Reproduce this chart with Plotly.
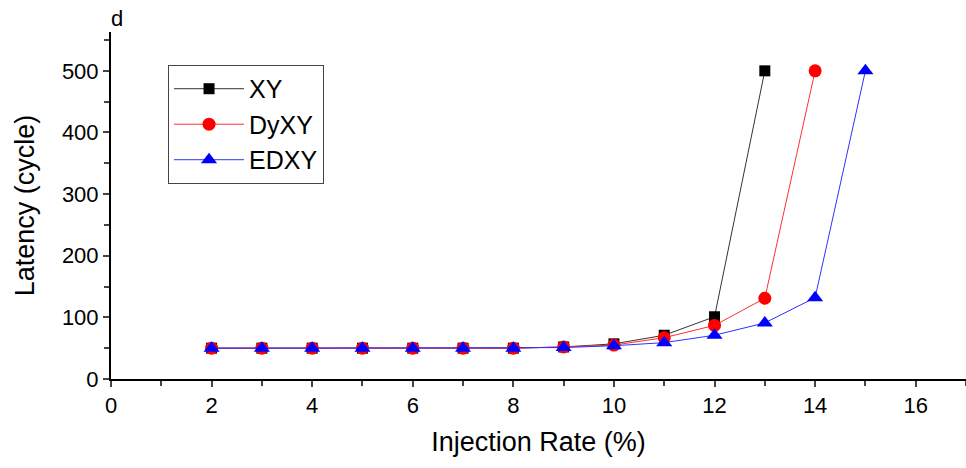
import plotly.graph_objects as go

rates_xy = [2, 3, 4, 5, 6, 7, 8, 9, 10, 11, 12, 13]
lat_xy = [50, 50, 50, 50, 50, 50, 50, 52, 57, 71, 101, 500]

rates_dyxy = [2, 3, 4, 5, 6, 7, 8, 9, 10, 11, 12, 13, 14]
lat_dyxy = [50, 50, 50, 50, 50, 50, 50, 52, 55, 67, 87, 131, 500]

rates_edxy = [2, 3, 4, 5, 6, 7, 8, 9, 10, 11, 12, 13, 14, 15]
lat_edxy = [50, 50, 50, 50, 50, 50, 50, 51, 54, 59, 71, 91, 132, 500]

FONT = "Liberation Sans, Arial, sans-serif"

fig = go.Figure()
fig.add_trace(go.Scatter(x=rates_xy, y=lat_xy, name="XY", mode="lines+markers",
                         legendgroup="a",
                         line=dict(color="#333333", width=1),
                         marker=dict(symbol="square", size=11, color="black")))
fig.add_trace(go.Scatter(x=rates_dyxy, y=lat_dyxy, name="DyXY", mode="lines+markers",
                         legendgroup="b",
                         line=dict(color="#ff3030", width=1),
                         marker=dict(symbol="circle", size=13, color="#ff0000")))
fig.add_trace(go.Scatter(x=rates_edxy, y=lat_edxy, name="EDXY", mode="lines+markers",
                         legendgroup="c",
                         line=dict(color="#3030ff", width=1),
                         marker=dict(symbol="triangle-up", size=14, color="#0000ff")))

fig.update_layout(
    width=966, height=468,
    margin=dict(l=111, r=0, t=32, b=89),
    paper_bgcolor="white", plot_bgcolor="white",
    font=dict(family=FONT, color="black", size=22),
    showlegend=True,
    legend=dict(x=0.0667, y=0.905, xanchor="left", yanchor="top",
                bordercolor="#444", borderwidth=1, bgcolor="white",
                font=dict(size=25, family=FONT), tracegroupgap=0,
                itemwidth=70, itemsizing="trace"),
    xaxis=dict(range=[0, 17], tickmode="array", tickvals=[0, 2, 4, 6, 8, 10, 12, 14, 16],
               ticks="outside", ticklen=6, tickwidth=2, showline=True, linewidth=2,
               linecolor="black", showgrid=False, zeroline=False, automargin=False,
               minor=dict(ticks="outside", dtick=1, tick0=0, ticklen=5, tickwidth=1.5),
               title=dict(text="Injection Rate (%)", font=dict(size=27), standoff=15),
               tickfont=dict(size=22, family=FONT)),
    yaxis=dict(range=[0, 563], tickmode="array", tickvals=[0, 100, 200, 300, 400, 500],
               ticks="outside", ticklen=6, tickwidth=2, showline=True, linewidth=2,
               linecolor="black", showgrid=False, zeroline=False, automargin=False,
               minor=dict(ticks="outside", dtick=50, tick0=0, ticklen=5, tickwidth=1.5),
               title=dict(text="Latency (cycle)", font=dict(size=27), standoff=19),
               tickfont=dict(size=22, family=FONT)),
)
fig.add_annotation(text="d", xref="x", yref="paper", x=0.12, y=1.0, yanchor="middle",
                   yshift=14, xanchor="center", showarrow=False,
                   font=dict(size=22, family=FONT))

fig.write_html("out.html", config={"displayModeBar": False},
               post_script="document.body.style.margin='0px';")
